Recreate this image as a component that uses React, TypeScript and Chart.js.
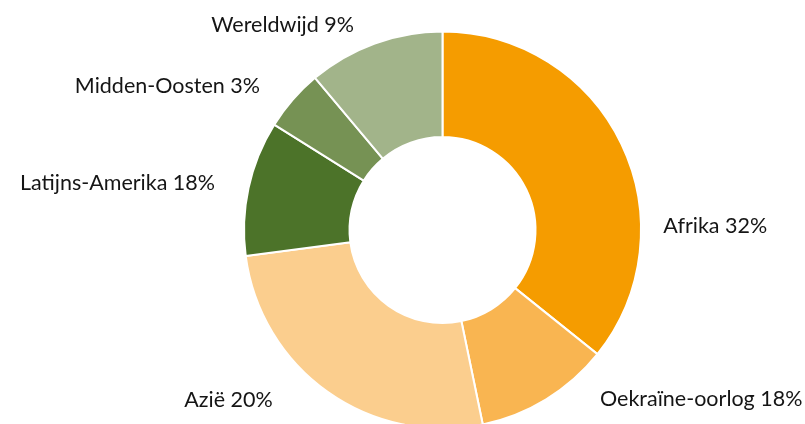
import React, { useEffect, useRef } from "react";
import { Chart, registerables } from "chart.js";

Chart.register(...registerables);

const categories = ["Afrika", "Oekraïne-oorlog", "Azië", "Latijns-Amerika", "Midden-Oosten", "Wereldwijd"];
const values = [35.75, 11, 26.15, 11, 5, 11.1];
const percentLabels = ["32%", "18%", "20%", "18%", "3%", "9%"];
const sliceColors = ["#F59C00", "#F9B551", "#FBCE8E", "#4C7329", "#769254", "#A2B48A"];

// label placement relative to the doughnut centre: [dx, dy(baseline), align]
const labelPlacement: [number, number, CanvasTextAlign][] = [
  [220.8, 2.7, "left"],
  [157.5, 175.5, "left"],
  [-169.8, 176.5, "right"],
  [-227.5, -40.5, "right"],
  [-182.5, -137.3, "right"],
  [-88.5, -198.3, "right"],
];

const outsideLabels = {
  id: "outsideLabels",
  afterDatasetsDraw(chart: any) {
    const meta = chart.getDatasetMeta(0);
    const ctx = chart.ctx;
    ctx.save();
    ctx.font = "21.5px Lato";
    ctx.fillStyle = "#151515";
    ctx.textBaseline = "alphabetic";
    meta.data.forEach((arc: any, i: number) => {
      const { x, y } = arc.getProps(["x", "y"], true);
      const [dx, dy, align] = labelPlacement[i];
      ctx.textAlign = align;
      ctx.fillText(categories[i] + " " + percentLabels[i], x + dx, y + dy);
    });
    ctx.restore();
  },
};

export default function App() {
  const ref = useRef<HTMLCanvasElement | null>(null);
  useEffect(() => {
    if (!ref.current) return;
    const chart = new Chart(ref.current, {
      type: "doughnut",
      data: {
        labels: categories,
        datasets: [
          {
            data: values,
            backgroundColor: sliceColors,
            borderColor: "#ffffff",
            borderWidth: 2,
            clip: false,
          } as any,
        ],
      },
      options: {
        responsive: false,
        animation: false,
        radius: 198.5,
        cutout: "46.85%",
        layout: { padding: { left: 80, right: 0, top: 36, bottom: 0 } },
        plugins: {
          legend: { display: false },
          tooltip: { enabled: false },
        },
      } as any,
      plugins: [outsideLabels],
    });
    return () => chart.destroy();
  }, []);
  return (
    <div style={{ position: "fixed", left: 0, top: 0, width: 805, height: 424, background: "#fff" }}>
      <canvas ref={ref} width={805} height={424} style={{ display: "block" }} />
    </div>
  );
}
